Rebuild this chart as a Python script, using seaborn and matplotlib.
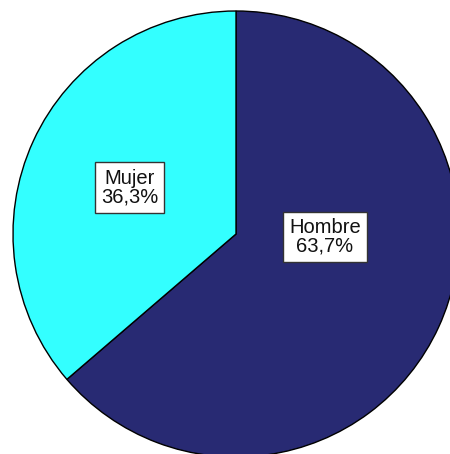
import matplotlib
matplotlib.use("Agg")
import matplotlib.pyplot as plt
import seaborn as sns

categories = ["Hombre", "Mujer"]
percentages = [63.7, 36.3]
colors = ["#282A73", "#33FFFF"]

sns.set_theme(style="white")
plt.rcParams["font.family"] = ["Liberation Sans", "DejaVu Sans"]

W, H = 450, 454
fig = plt.figure(figsize=(W / 100, H / 100), dpi=100)
ax = fig.add_axes([0, 0, 1, 1])

cx, cy, r = 236, H - 234, 223
wedges, _ = ax.pie(percentages, colors=colors, startangle=90, counterclock=False,
                   center=(cx, cy), radius=r,
                   wedgeprops=dict(edgecolor="black", linewidth=1.0))

label_pos = {"Hombre": (325, H - 237), "Mujer": (129.5, H - 187.5)}
for cat, val in zip(categories, percentages):
    x, y = label_pos[cat]
    txt = f"{cat}\n{val:.1f}%".replace(".", ",")
    ax.text(x, y, txt, ha="center", va="center", fontsize=14.5, color="#111111",
            linespacing=1.0,
            bbox=dict(boxstyle="square,pad=0.3", facecolor="white", edgecolor="#333333", linewidth=1.0))

ax.set_xlim(0, W)
ax.set_ylim(0, H)
ax.set_aspect("equal")
ax.axis("off")
fig.savefig("out.png", dpi=100)
